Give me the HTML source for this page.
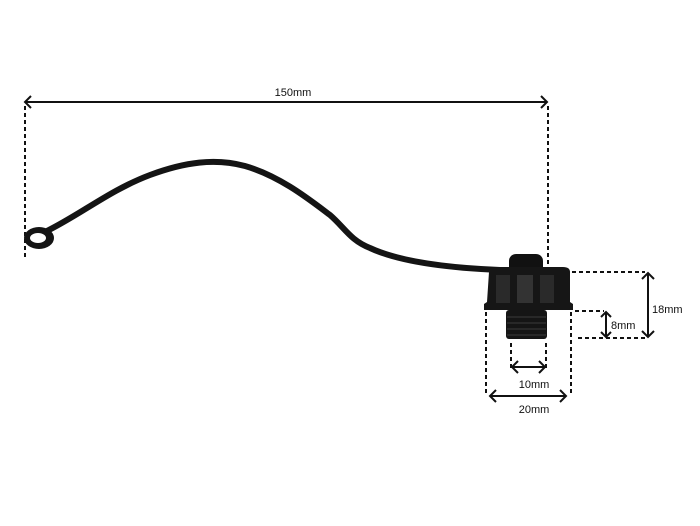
<!DOCTYPE html>
<html><head><meta charset="utf-8"><style>
html,body{margin:0;padding:0;background:#fff;}
svg{display:block;}
text{font-family:"Liberation Sans",sans-serif;font-size:11px;fill:#111;}
</style></head><body>
<svg width="700" height="526" viewBox="0 0 700 526" xmlns="http://www.w3.org/2000/svg">
<g stroke="#111" fill="none" stroke-width="2">
  <!-- 150mm -->
  <line x1="25" y1="102" x2="547" y2="102"/>
  <polyline points="31,96 25,102 31,108"/>
  <polyline points="541,96 547,102 541,108"/>
  <g stroke-dasharray="4,3">
    <line x1="25" y1="106" x2="25" y2="260"/>
    <line x1="548" y1="106" x2="548" y2="268"/>
    <line x1="572" y1="272" x2="645" y2="272"/>
    <line x1="575" y1="311" x2="604" y2="311"/>
    <line x1="578" y1="338" x2="645" y2="338"/>
    <line x1="486" y1="312" x2="486" y2="396"/>
    <line x1="571" y1="312" x2="571" y2="396"/>
    <line x1="511" y1="343" x2="511" y2="368"/>
    <line x1="546" y1="343" x2="546" y2="368"/>
  </g>
  <!-- 18mm -->
  <line x1="648" y1="273" x2="648" y2="337"/>
  <polyline points="642,279 648,273 654,279"/>
  <polyline points="642,331 648,337 654,331"/>
  <!-- 8mm -->
  <line x1="606" y1="312" x2="606" y2="337"/>
  <polyline points="601,317 606,312 611,317"/>
  <polyline points="601,332 606,337 611,332"/>
  <!-- 10mm -->
  <line x1="512" y1="367" x2="545" y2="367"/>
  <polyline points="518,361 512,367 518,373"/>
  <polyline points="539,361 545,367 539,373"/>
  <!-- 20mm -->
  <line x1="490" y1="396" x2="566" y2="396"/>
  <polyline points="496,390 490,396 496,402"/>
  <polyline points="560,390 566,396 560,402"/>
</g>
<text x="293" y="96" text-anchor="middle">150mm</text>
<text x="652" y="313">18mm</text>
<text x="611" y="329">8mm</text>
<text x="534" y="388" text-anchor="middle">10mm</text>
<text x="534" y="413" text-anchor="middle">20mm</text>
<!-- strap -->
<path d="M45,232 C80,215 110,190 150,175 C185,162 215,158 245,166 C280,176 310,200 330,215 C345,228 350,240 370,248 C400,262 450,268 500,270" stroke="#141414" stroke-width="6" fill="none" stroke-linecap="round"/>
<ellipse cx="39" cy="238" rx="15" ry="11" fill="#141414"/>
<ellipse cx="38" cy="238" rx="8" ry="5" fill="#fff"/>
<!-- cap -->
<rect x="509" y="254" width="34" height="20" rx="7" fill="#111"/>
<path d="M489,272 Q489,267 496,267 L563,267 Q570,267 570,272 L570,302 L573,304 L573,310 L484,310 L484,304 L487,302 Z" fill="#161616"/>
<rect x="496" y="275" width="14" height="28" fill="#2a2a2a"/>
<rect x="517" y="275" width="16" height="28" fill="#333"/>
<rect x="540" y="275" width="14" height="28" fill="#2a2a2a"/>
<rect x="506" y="310" width="41" height="29" rx="3" fill="#151515"/>
<g stroke="#3a3a3a" stroke-width="1">
  <line x1="507" y1="317" x2="546" y2="317"/>
  <line x1="507" y1="323" x2="546" y2="323"/>
  <line x1="507" y1="329" x2="546" y2="329"/>
  <line x1="507" y1="335" x2="546" y2="335"/>
</g>
</svg>
</body></html>
